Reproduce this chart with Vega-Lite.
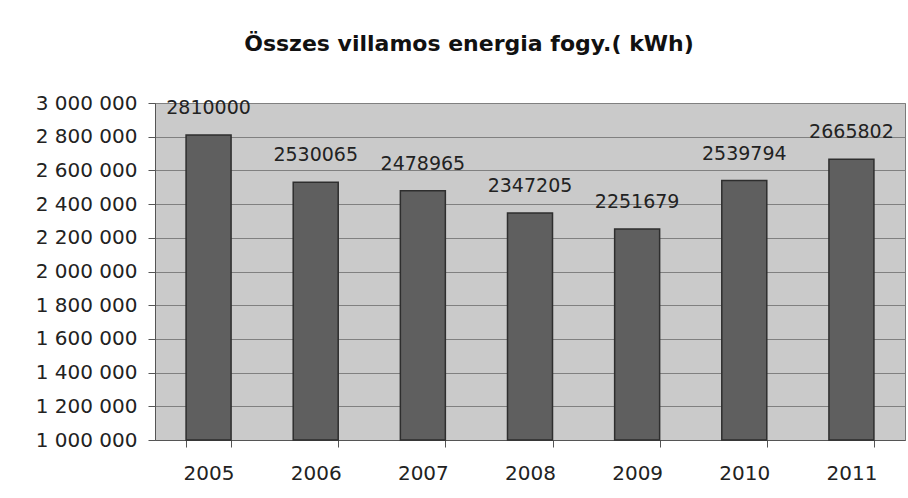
{
  "$schema": "https://vega.github.io/schema/vega-lite/v6.json",
  "autosize": {"type": "none"},
  "width": 750,
  "height": 337,
  "padding": {"left": 155, "top": 103, "right": 3, "bottom": 58},
  "background": "white",
  "title": {
    "text": "Összes villamos energia fogy.( kWh)",
    "font": "DejaVu Sans",
    "fontSize": 22,
    "fontWeight": "bold",
    "color": "#111111",
    "anchor": "middle",
    "dx": -61,
    "offset": 37
  },
  "config": {
    "locale": {"number": {"decimal": ",", "thousands": " ", "grouping": [3], "currency": ["", ""]}},
    "view": {"fill": "#cacaca", "stroke": "#7a7a7a", "strokeWidth": 1}
  },
  "data": {
    "values": [
      {"ev": "2005", "kwh": 2810000},
      {"ev": "2006", "kwh": 2530065},
      {"ev": "2007", "kwh": 2478965},
      {"ev": "2008", "kwh": 2347205},
      {"ev": "2009", "kwh": 2251679},
      {"ev": "2010", "kwh": 2539794},
      {"ev": "2011", "kwh": 2665802}
    ]
  },
  "encoding": {
    "x": {
      "field": "ev",
      "type": "ordinal",
      "scale": {"paddingInner": 0.58, "paddingOuter": 0.29},
      "axis": {
        "title": null,
        "labelAngle": 0,
        "labelFont": "DejaVu Sans",
        "labelFontSize": 20,
        "labelColor": "#222222",
        "labelPadding": 16,
        "tickBand": "extent",
        "tickSize": 7,
        "tickColor": "#555555",
        "domainColor": "#555555",
        "grid": false
      }
    },
    "y": {
      "field": "kwh",
      "type": "quantitative",
      "scale": {"domain": [1000000, 3000000], "nice": false, "zero": false},
      "axis": {
        "title": null,
        "values": [1000000, 1200000, 1400000, 1600000, 1800000, 2000000, 2200000, 2400000, 2600000, 2800000, 3000000],
        "format": ",d",
        "labelFont": "DejaVu Sans",
        "labelFontSize": 20,
        "labelColor": "#222222",
        "labelPadding": 11,
        "tickSize": 7,
        "tickColor": "#555555",
        "domainColor": "#555555",
        "grid": true,
        "gridColor": "#808080",
        "gridWidth": 1
      }
    }
  },
  "layer": [
    {
      "mark": {"type": "bar", "color": "#5f5f5f", "stroke": "#2e2e2e", "strokeWidth": 1.5},
      "encoding": {"y2": {"datum": 1000000}}
    },
    {
      "mark": {"type": "text", "baseline": "middle", "dy": -27, "font": "DejaVu Sans", "fontSize": 19, "color": "#222222"},
      "encoding": {"text": {"field": "kwh", "type": "quantitative", "format": "d"}}
    }
  ]
}
